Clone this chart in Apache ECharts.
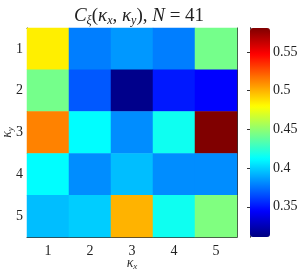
<!DOCTYPE html>
<html><head><meta charset="utf-8">
<script src="https://cdn.jsdelivr.net/npm/echarts@6/dist/echarts.min.js"></script>
<style>html,body{margin:0;padding:0;background:#fff}#c{width:301px;height:269px}</style>
</head><body><div id="c"></div>
<script>
const xCats = ['1','2','3','4','5'];
const yCats = ['1','2','3','4','5'];
const row1 = [0.484, 0.378, 0.385, 0.378, 0.443];
const row2 = [0.443, 0.368, 0.314, 0.351, 0.345];
const row3 = [0.513, 0.412, 0.382, 0.416, 0.581];
const row4 = [0.412, 0.382, 0.395, 0.382, 0.382];
const row5 = [0.395, 0.399, 0.500, 0.416, 0.446];
const cbTicks = [0.35, 0.4, 0.45, 0.5, 0.55];
const vMin = 0.311, vMax = 0.581;
const jet = ['#000080','#0000ff','#0080ff','#00ffff','#80ff80','#ffff00','#ff8000','#ff0000','#800000'];

const rows = [row1,row2,row3,row4,row5];
const data = [];
rows.forEach((r, yi) => r.forEach((v, xi) => data.push([xi, yi, v])));

const font = "'Liberation Serif','DejaVu Serif',serif";
const axCol = '#333';
const chart = echarts.init(document.getElementById('c'));
chart.setOption({
  animation: false,
  backgroundColor: '#fff',
  title: {
    text: '{c|C}{s|ξ}{n|(}{c|κ}{s|x}{n|, }{c|κ}{s|y}{n|), }{c|N}{n| = 41}',
    left: 134, top: 0, textAlign: 'center',
    textStyle: {
      fontWeight: 'normal',
      rich: {
        c: {fontFamily: font, fontStyle: 'italic', fontWeight: 'normal', fontSize: 19, color: '#222', lineHeight: 22},
        n: {fontFamily: font, fontWeight: 'normal', fontSize: 19, color: '#222', lineHeight: 22},
        s: {fontFamily: font, fontStyle: 'italic', fontWeight: 'normal', fontSize: 12, color: '#222', lineHeight: 22, verticalAlign: 'bottom'}
      }
    }
  },
  grid: [
    {left: 27, top: 28, width: 210, height: 209, containLabel: false, outerBoundsMode: 'none'},
    {left: 250, top: 28, width: 20, height: 209, containLabel: false, outerBoundsMode: 'none'}
  ],
  xAxis: [
    {type: 'category', data: xCats, gridIndex: 0, position: 'bottom',
     name: '{k|κ}{s|x}', nameLocation: 'middle', nameGap: 18, nameMoveOverlap: false,
     nameTextStyle: {rich: {
       k: {fontFamily: font, fontStyle: 'italic', fontSize: 14, color: '#333', lineHeight: 16},
       s: {fontFamily: font, fontStyle: 'italic', fontSize: 9, color: '#333', lineHeight: 16, verticalAlign: 'bottom'}}},
     axisLine: {lineStyle: {color: axCol, width: 1}},
     axisTick: {inside: true, alignWithLabel: true, length: 3, lineStyle: {color: axCol}},
     axisLabel: {fontFamily: font, fontSize: 14, color: '#222', margin: 7},
     splitLine: {show: false}},
    {type: 'category', data: xCats, gridIndex: 0, position: 'top',
     axisLine: {lineStyle: {color: axCol, width: 1}},
     axisTick: {inside: true, alignWithLabel: true, length: 3, lineStyle: {color: axCol}},
     axisLabel: {show: false}},
    {type: 'value', gridIndex: 1, min: 0, max: 1, show: false}
  ],
  yAxis: [
    {type: 'category', data: yCats, gridIndex: 0, inverse: true, position: 'left',
     name: '{k|κ}{s|y}', nameLocation: 'middle', nameGap: 12, nameRotate: 90, nameMoveOverlap: false,
     nameTextStyle: {rich: {
       k: {fontFamily: font, fontStyle: 'italic', fontSize: 14, color: '#333', lineHeight: 16},
       s: {fontFamily: font, fontStyle: 'italic', fontSize: 9, color: '#333', lineHeight: 16, verticalAlign: 'bottom'}}},
     axisLine: {lineStyle: {color: axCol, width: 1}},
     axisTick: {inside: true, alignWithLabel: true, length: 3, lineStyle: {color: axCol}},
     axisLabel: {fontFamily: font, fontSize: 14, color: '#222', margin: 4},
     splitLine: {show: false}},
    {type: 'category', data: yCats, gridIndex: 0, inverse: true, position: 'right',
     axisLine: {lineStyle: {color: axCol, width: 1}},
     axisTick: {inside: true, alignWithLabel: true, length: 3, lineStyle: {color: axCol}},
     axisLabel: {show: false}},
    {type: 'value', gridIndex: 1, min: vMin, max: vMax, position: 'right',
     axisLine: {show: true, lineStyle: {color: axCol, width: 1}},
     axisTick: {show: true, inside: true, length: 3, customValues: cbTicks, lineStyle: {color: axCol}},
     axisLabel: {fontFamily: font, fontSize: 14, color: '#222', margin: 3, customValues: cbTicks,
       formatter: v => String(+v.toFixed(2))},
     splitLine: {show: false}},
    {type: 'value', gridIndex: 1, min: vMin, max: vMax, position: 'left',
     axisLine: {show: true, lineStyle: {color: axCol, width: 1}},
     axisTick: {show: true, inside: true, length: 3, customValues: cbTicks, lineStyle: {color: axCol}},
     axisLabel: {show: false}, splitLine: {show: false}}
  ],
  visualMap: {
    type: 'continuous', min: vMin, max: vMax, seriesIndex: 0,
    left: 250, top: 28, itemWidth: 20, itemHeight: 209, padding: 0,
    calculable: false, hoverLink: false, text: null, showLabel: false,
    inRange: {color: jet}
  },
  series: [{
    type: 'heatmap', xAxisIndex: 0, yAxisIndex: 0, data: data,
    itemStyle: {borderWidth: 0}, emphasis: {disabled: true}
  }]
});
</script></body></html>
